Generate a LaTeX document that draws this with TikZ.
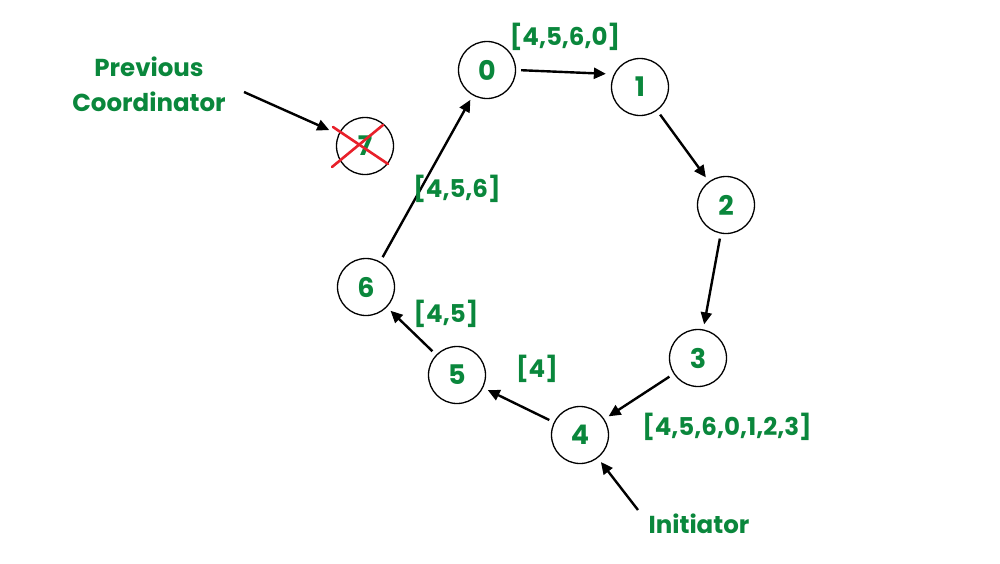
\documentclass[tikz,border=0pt]{standalone}
\usepackage{fontspec}
\setmainfont{Poppins}
\usetikzlibrary{arrows.meta}
\definecolor{gfg}{RGB}{10,135,60}
\definecolor{crossred}{RGB}{232,32,42}
\tikzset{
  proc/.style={circle,draw=black,line width=1.3pt,minimum size=57pt,inner sep=0pt,
    font=\fontsize{27}{30}\selectfont\bfseries,text=gfg},
  lbl/.style={font=\fontsize{24.5}{29}\selectfont\bfseries,text=gfg,inner sep=0pt,align=center},
  arr/.style={line width=2.4pt,-{Triangle[length=12pt,width=11pt]},shorten >=5pt,shorten <=5pt},
  cross/.style={crossred,line width=2.6pt,line cap=round}
}
\begin{document}
\begin{tikzpicture}[x=1pt,y=-1pt]
\useasboundingbox[fill=white] (0,0) rectangle (1000,563);
\node[proc] (n0) at (487,70) {0};
\node[proc] (n1) at (640,87) {1};
\node[proc] (n2) at (726,205) {2};
\node[proc] (n3) at (698,358) {3};
\node[proc] (n4) at (580,435) {4};
\node[proc] (n5) at (457,375) {5};
\node[proc] (n6) at (366,287) {6};
\node[proc] (n7) at (365,146) {7};
\draw[cross] (333,127) -- (388,164);
\draw[cross] (332,167) -- (383,125);
\draw[arr] (n0.east) -- ([yshift=13pt]n1.west);
\draw[arr] (n1) -- (n2);
\draw[arr] (n2) -- (n3);
\draw[arr] (n3) -- (n4);
\draw[arr] (n4) -- (n5);
\draw[arr] (n5) -- (n6);
\draw[arr] (n6) -- (n0);
\node[lbl] (l0) at (565,37) {[4,5,6,0]};
\node[lbl] (l6) at (457,189) {[4,5,6]};
\node[lbl] (l5) at (446,314) {[4,5]};
\node[lbl] (l4) at (537,369) {[4]};
\node[lbl] (l3) at (727,427) {[4,5,6,0,1,2,3]};
\node[lbl] (init) at (699,524) {Initiator};
\node[lbl] (prev) at (149,84) {Previous\\[6pt]Coordinator};
\coordinate (ia) at (638,510);
\coordinate (pa) at (244,92);
\draw[arr,shorten <=0pt] (ia) -- (n4);
\draw[arr,shorten <=0pt,shorten >=10pt] (pa) -- (n7);
\end{tikzpicture}
\end{document}
